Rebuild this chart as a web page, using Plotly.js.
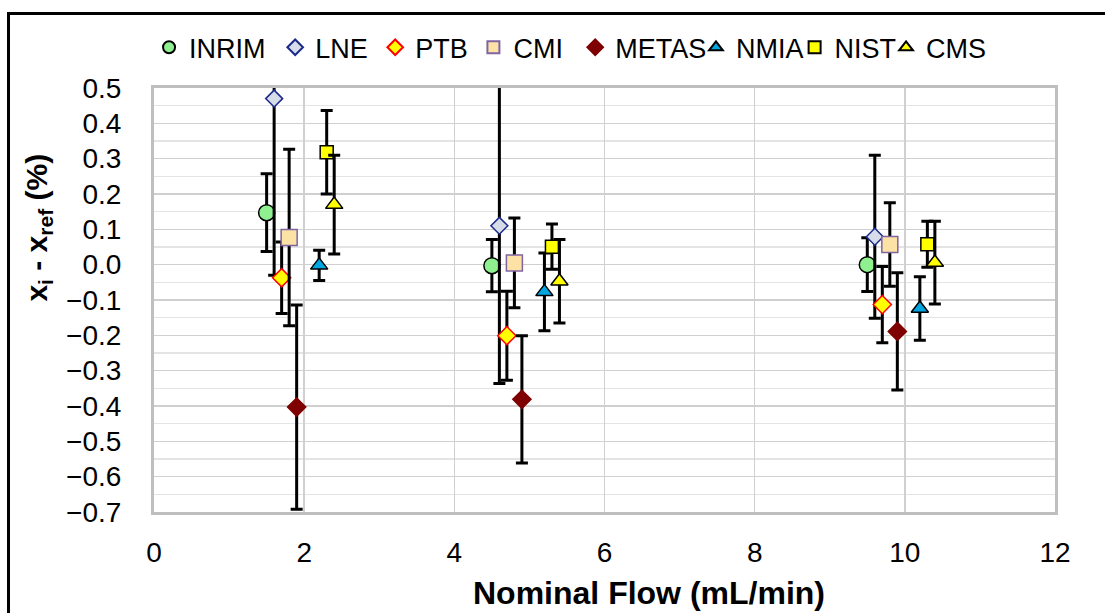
<!DOCTYPE html>
<html>
<head>
<meta charset="utf-8">
<script src="https://cdn.plot.ly/plotly-3.0.1.min.js"></script>
<style>
html,body{margin:0;padding:0;background:#fff;overflow:hidden;}
#chart{width:1105px;height:613px;position:relative;}
#frame{position:absolute;left:7px;top:12px;width:1200px;height:700px;border:3px solid #000;pointer-events:none;}
</style>
</head>
<body>
<div id="chart"></div>
<div id="frame"></div>
<script>
// Nominal flow positions (offset per lab, as plotted)
const labs = ["INRIM","LNE","PTB","CMI","METAS","NMIA","NIST","CMS"];
const xINRIM = [1.5, 4.5, 9.5];
const xLNE   = [1.6, 4.6, 9.6];
const xPTB   = [1.7, 4.7, 9.7];
const xCMI   = [1.8, 4.8, 9.8];
const xMETAS = [1.9, 4.9, 9.9];
const xNMIA  = [2.2, 5.2, 10.2];
const xNIST  = [2.3, 5.3, 10.3];
const xCMS   = [2.4, 5.4, 10.4];

// Deviation from reference (%)
const yINRIM = [0.147, -0.003, 0.000];
const yLNE   = [0.470, 0.110, 0.079];
const yPTB   = [-0.037, -0.201, -0.113];
const yCMI   = [0.077, 0.005, 0.057];
const yMETAS = [-0.403, -0.381, -0.189];
const yNMIA  = [-0.002, -0.077, -0.124];
const yNIST  = [0.318, 0.051, 0.058];
const yCMS   = [0.170, -0.047, 0.006];

// Expanded uncertainties (%)
const uINRIM = [0.110, 0.074, 0.076];
const uLNE   = [0.500, 0.446, 0.231];
const uPTB   = [0.101, 0.126, 0.108];
const uCMI   = [0.250, 0.127, 0.118];
const uMETAS = [0.289, 0.180, 0.166];
const uNMIA  = [0.043, 0.110, 0.090];
const uNIST  = [0.118, 0.064, 0.065];
const uCMS   = [0.140, 0.118, 0.117];

const xs = [xINRIM,xLNE,xPTB,xCMI,xMETAS,xNMIA,xNIST,xCMS];
const ys = [yINRIM,yLNE,yPTB,yCMI,yMETAS,yNMIA,yNIST,yCMS];
const us = [uINRIM,uLNE,uPTB,uCMI,uMETAS,uNMIA,uNIST,uCMS];

const styles = [
  {symbol:"circle", size:16, color:"#8ff08f", line:"#000000"},
  {symbol:"diamond", size:13, color:"#d6dce8", line:"#1c2a8c"},
  {symbol:"diamond", size:14, color:"#ffff00", line:"#ff0000"},
  {symbol:"square", size:16, color:"#fde2a6", line:"#8064a2"},
  {symbol:"diamond", size:14, color:"#7f0000", line:"#7f0000"},
  {symbol:"triangle-up", size:15, color:"#00a6e0", line:"#000000"},
  {symbol:"square", size:13, color:"#ffff00", line:"#000000"},
  {symbol:"triangle-up", size:15, color:"#ffff00", line:"#000000"}
];

// legend entry positions across the top (fraction of plot width)
const legendX = [-0.0055, 0.1345, 0.2455, 0.3545, 0.4675, 0.6015, 0.711, 0.8125];

const FONT = "Arial, 'Liberation Sans', sans-serif";

const data = labs.map((name,i)=>({
  type:"scatter", mode:"markers", name:name,
  legend: i===0 ? "legend" : "legend"+(i+1),
  x: xs[i], y: ys[i],
  error_y:{type:"data", array:us[i], visible:true, color:"#000", thickness:3, width:6},
  marker:{symbol:styles[i].symbol, size:styles[i].size, color:styles[i].color,
          line:{color:styles[i].line, width:1.5}},
  cliponaxis:true
}));

const layout = {
  width:1105, height:613,
  paper_bgcolor:"#fff", plot_bgcolor:"#fff",
  margin:{l:154, r:50, t:88, b:101},
  font:{family:FONT, color:"#000", size:28},
  showlegend:true,
  xaxis:{range:[0,12], dtick:2, tick0:0, showgrid:true, gridcolor:"#d0d0d0", gridwidth:1.5,
         zeroline:false, showline:true, linecolor:"#bfbfbf", linewidth:3, mirror:true,
         ticks:"", ticklabelstandoff:13, tickfont:{family:FONT, size:28, color:"#000"}},
  yaxis:{range:[-0.7,0.5], dtick:0.1, tick0:0, tickformat:".1f", showgrid:true, gridcolor:"#d0d0d0", gridwidth:1.5,
         minor:{dtick:0.05, showgrid:true, gridcolor:"#e4e4e4", gridwidth:1.5},
         zeroline:false, showline:true, linecolor:"#bfbfbf", linewidth:3, mirror:true,
         ticks:"", ticklabelstandoff:24, tickfont:{family:FONT, size:28, color:"#000"}},
  annotations:[
    {text:"<b>Nominal Flow (mL/min)</b>", xref:"paper", yref:"paper",
     x:0.549, y:-0.192, xanchor:"center", yanchor:"middle", showarrow:false,
     font:{family:FONT, size:32, color:"#000"}},
    {text:"<b>x<sub>i</sub> - x<sub>ref</sub> (%)</b>", xref:"paper", yref:"paper",
     x:-0.128, y:0.67, xanchor:"center", yanchor:"middle", textangle:-90, showarrow:false,
     font:{family:FONT, size:30, color:"#000"}}
  ]
};

labs.forEach((n,i)=>{
  const key = i===0 ? "legend" : "legend"+(i+1);
  layout[key] = {orientation:"h", x:legendX[i], xanchor:"left", y:1.095, yanchor:"middle",
    font:{family:FONT, size:27, color:"#000"}, itemsizing:"constant", itemwidth:30,
    bgcolor:"rgba(0,0,0,0)"};
});

Plotly.newPlot("chart", data, layout, {displayModeBar:false, staticPlot:true});
</script>
</body>
</html>
